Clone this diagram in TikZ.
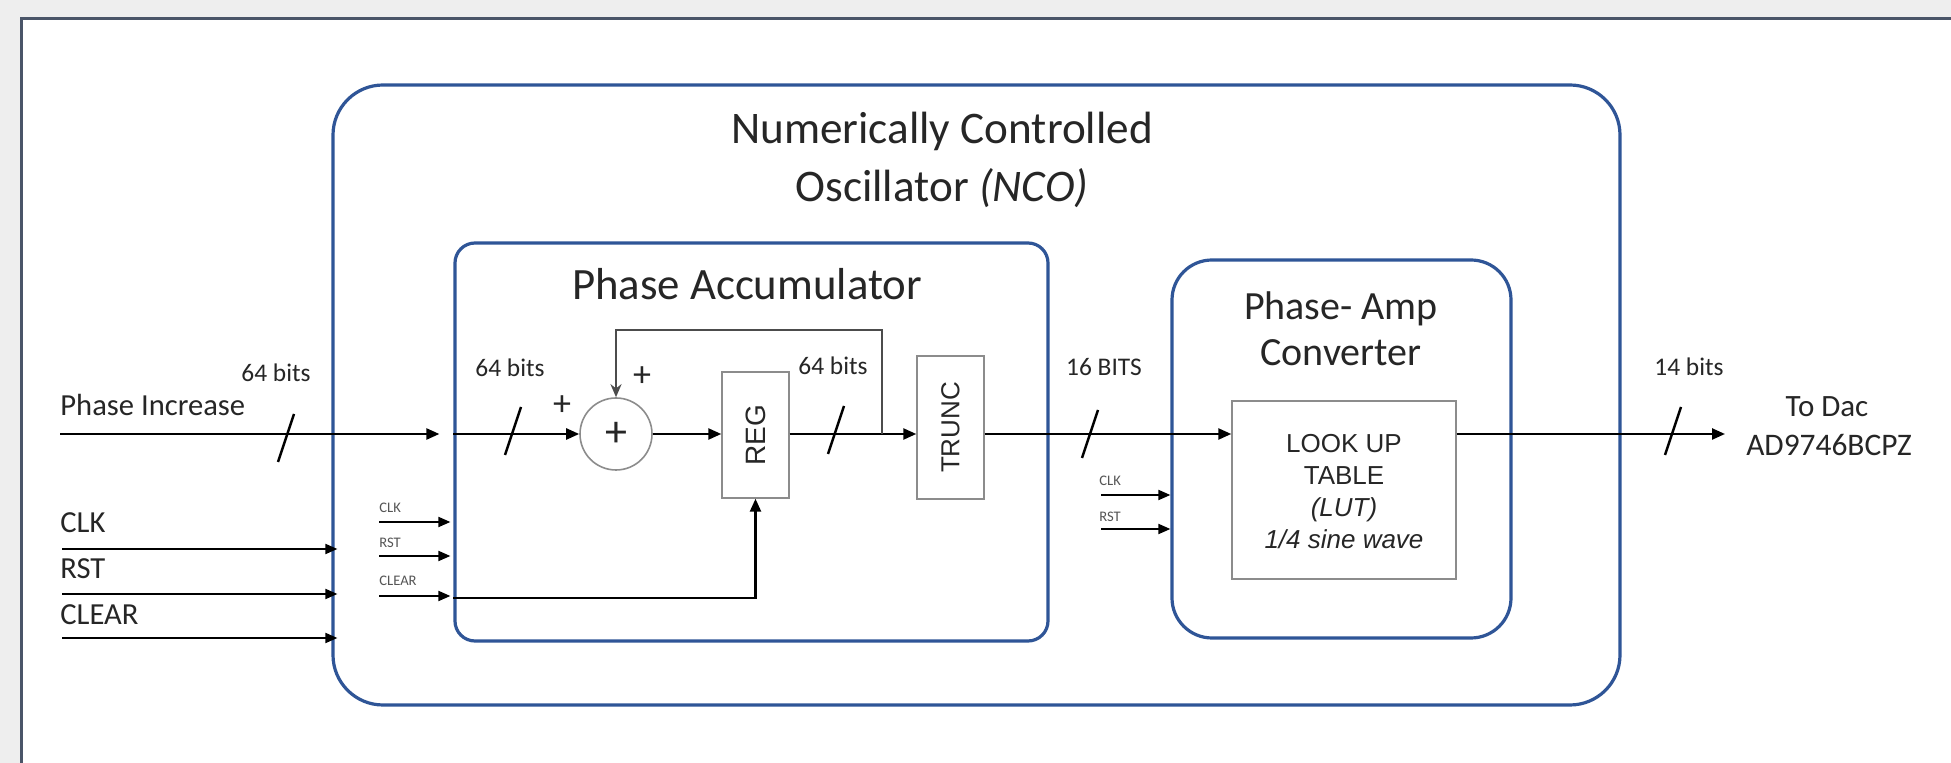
\documentclass[tikz,border=0pt]{standalone}
\usepackage{fontspec}
\setmainfont{Carlito}
\newfontfamily\arialf{Liberation Sans}
\usetikzlibrary{arrows.meta,fit,calc}
\definecolor{bgc}{HTML}{EEEEEE}
\definecolor{framec}{HTML}{4A5568}
\definecolor{boxblue}{HTML}{2F5597}
\definecolor{txt}{HTML}{262626}
\definecolor{thinc}{HTML}{8C8C8C}
\definecolor{smallc}{HTML}{555555}
\tikzset{
 bluebox/.style={draw=boxblue, line width=1.6pt, inner sep=0pt},
 graybox/.style={draw=thinc, line width=0.7pt, inner sep=0pt, fill=white},
 sig/.style={draw=black, line width=1.2pt, -{Triangle[length=6.5pt,width=5.5pt]}},
 ctl/.style={draw=black, line width=0.9pt, -{Triangle[length=6pt,width=5pt]}},
 fbk/.style={draw=black!70, line width=1.1pt, -{Stealth[length=6.5pt,width=5.5pt]}},
 busmark/.style={draw=black, line width=1.2pt},
 lbl/.style={text=txt, inner sep=0pt},
 bits/.style={lbl, font=\fontsize{12.7}{15}\selectfont},
 biglbl/.style={lbl, font=\fontsize{15.3}{18}\selectfont, anchor=west},
 smalllbl/.style={text=smallc, inner sep=0pt, font=\fontsize{7.3}{9}\selectfont, anchor=west},
 plussign/.style={lbl, font=\fontsize{18}{20}\selectfont},
}
\begin{document}
\begin{tikzpicture}[x=0.5pt,y=-0.5pt]
\useasboundingbox (0,0) rectangle (1951,763);
\clip (0,0) rectangle (1951,763);
\fill[bgc] (0,0) rectangle (1951,763);
\draw[framec, line width=1.5pt, fill=white] (21,19) rectangle (1990,800);

% main boxes
\node[bluebox, rounded corners=25pt, fit={(333,85) (1620,705)}] (nco) {};
\node[bluebox, rounded corners=10pt, fit={(455,243) (1048,641)}] (pa) {};
\node[bluebox, rounded corners=20pt, fit={(1172,260) (1511,638)}] (conv) {};
\node[graybox, fit={(1232,401) (1456,579)}] (lut) {};
\node[graybox, fit={(722,372) (789,498)}] (reg) {};
\node[graybox, fit={(917,356) (984,499)}] (trunc) {};
\node[draw=thinc, line width=0.8pt, circle, minimum size=36pt, inner sep=0pt, fill=white] (add) at (616,434) {};

% titles
\node[lbl, align=center, font=\fontsize{22.6}{29}\selectfont] (ncot) at (942,160) {Numerically Controlled\\Oscillator \textit{(NCO)}};
\node[lbl, font=\fontsize{22.4}{27}\selectfont] (pat) at (747,284) {Phase Accumulator};
\node[lbl, align=center, font=\fontsize{20}{23}\selectfont] (convt) at (1341,329) {Phase- Amp\\Converter};
\node[lbl, align=center, font=\arialf\fontsize{13}{16}\selectfont] (lutt) at (1344,492) {LOOK UP\\TABLE\\\textit{(LUT)}\\\textit{1/4 sine wave}};
\node[lbl, rotate=90, font=\arialf\fontsize{14}{16}\selectfont] (regt) at (reg.center) {REG};
\node[lbl, rotate=90, font=\arialf\fontsize{13}{16}\selectfont] (trunct) at (trunc.center) {TRUNC};
\node[lbl, font=\fontsize{22}{24}\selectfont] (addt) at (add.center) {+};
\node[plussign] (plus1) at (562,406) {+};
\node[plussign] (plus2) at (642,377) {+};

% left labels
\node[lbl, font=\fontsize{15.3}{18}\selectfont, anchor=west] (pinclbl) at (60,405) {Phase Increase};
\node[biglbl] (clkl) at (60,523) {CLK};
\node[biglbl] (rstl) at (60,569) {RST};
\node[biglbl] (clrl) at (60,615) {CLEAR};
\node[bits] (b1) at (276,373) {64 bits};
\node[bits] (b2) at (510,368) {64 bits};
\node[bits] (b3) at (833,366) {64 bits};
\node[bits] (b4) at (1104,367) {16 BITS};
\node[bits] (b5) at (1689,367) {14 bits};
\node[smalllbl] (sclk) at (379,508) {CLK};
\node[smalllbl] (srst) at (379,543) {RST};
\node[smalllbl] (sclr) at (379,581) {CLEAR};
\node[smalllbl] (cclk) at (1099,481) {CLK};
\node[smalllbl] (crst) at (1099,517) {RST};
\node[lbl, font=\fontsize{15.5}{18}\selectfont] (todac) at (1827,407) {To Dac};
\node[lbl, font=\fontsize{15.7}{18}\selectfont] (dacname) at (1829,445) {AD9746BCPZ};

% coordinates for free ends
\coordinate (pin) at (60,434);
\coordinate (clkin) at (62,549);
\coordinate (rstin) at (62,594);
\coordinate (clrin) at (62,638);
\coordinate (sclkin) at (379,522);
\coordinate (srstin) at (379,556);
\coordinate (sclrin) at (379,596);
\coordinate (cclkin) at (1101,495);
\coordinate (crstin) at (1101,529);
\coordinate (tap) at (882,434);
\coordinate (dac) at (1725,434);

% main path
\draw[sig] (pin) -- ($(pa.west|-pin)+(-14,0)$);
\draw[sig] (pa.west|-add) -- (add.west);
\draw[sig] (add.east) -- (reg.west|-add);
\draw[sig] (reg.east|-add) -- (trunc.west|-add);
\draw[fbk] (tap) -- ++(0,-104) -| (add.north);
\draw[sig] (trunc.east|-add) -- (lut.west|-add);
\draw[sig] (lut.east|-add) -- (dac);

% control inputs
\draw[ctl] (clkin) -- ($(nco.west|-clkin)+(6,0)$);
\draw[ctl] (rstin) -- ($(nco.west|-rstin)+(6,0)$);
\draw[ctl] (clrin) -- ($(nco.west|-clrin)+(6,0)$);
\draw[ctl] (sclkin) -- ($(pa.west|-sclkin)+(-3,0)$);
\draw[ctl] (srstin) -- ($(pa.west|-srstin)+(-3,0)$);
\draw[ctl] (sclrin) -- ($(pa.west|-sclrin)+(-3,0)$);
\draw[sig] ($(pa.west|-sclrin)+(0,2)$) -| (reg.south);
\draw[ctl] (cclkin) -- (conv.west|-cclkin);
\draw[ctl] (crstin) -- (conv.west|-crstin);

% bus width marks
\foreach \cx/\cy in {286/438, 513/431, 836/430, 1090/434, 1673/431}
  \draw[busmark] (\cx+8,\cy-24) -- (\cx-8,\cy+24);
\end{tikzpicture}
\end{document}
